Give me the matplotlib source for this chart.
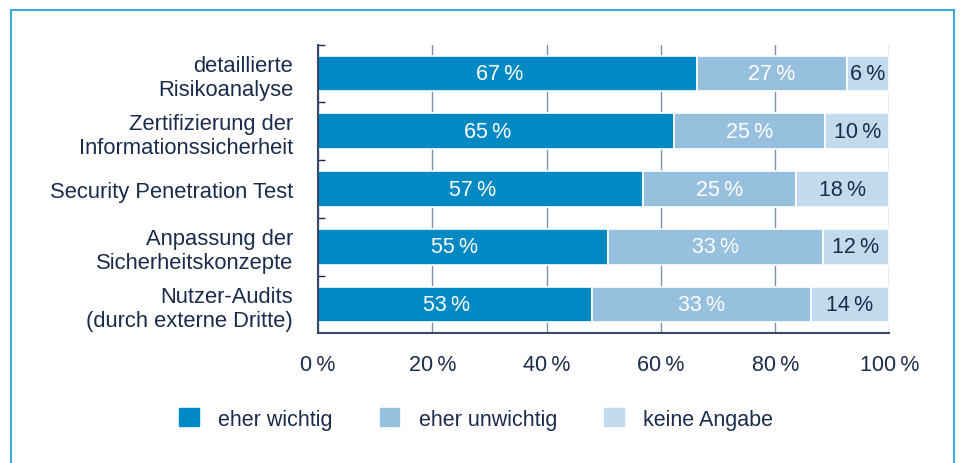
import matplotlib.pyplot as plt
import matplotlib.lines as mlines
import matplotlib.patches as mpatches
import numpy as np

plt.rcParams['font.family'] = ['Liberation Sans', 'DejaVu Sans']

categories = ["detaillierte\nRisikoanalyse",
              "Zertifizierung der\nInformationssicherheit",
              "Security Penetration Test",
              "Anpassung der\nSicherheitskonzepte",
              "Nutzer-Audits\n(durch externe Dritte)"]
series = ["eher wichtig", "eher unwichtig", "keine Angabe"]
# printed labels
wichtig_lbl = [67, 65, 57, 55, 53]
unwichtig_lbl = [27, 25, 25, 33, 33]
keine_lbl = [6, 10, 18, 12, 14]
# bar lengths as drawn in the original (they differ from the labels)
wichtig = [66.3, 62.3, 56.8, 50.7, 47.9]
unwichtig = [26.2, 26.5, 26.9, 37.6, 38.3]
keine = [7.5, 11.2, 16.3, 11.7, 13.8]
xticks = [0, 20, 40, 60, 80, 100]

navy = "#1b2b4b"
colors = ["#0189c3", "#97c0df", "#c3d9ec"]
txtcol = ["white", "white", navy]
lbl_shift = [-1.4, 0, 0]  # dark segment labels sit a bit left of centre
grid = "#8090a8"
frame = "#3aa8de"
fs = 15.5

fig = plt.figure(figsize=(9.6, 4.64), dpi=100)
ax = fig.add_axes([0.33125, 0.2793, 0.5953, 0.6224])

y = np.arange(len(categories))
left = np.zeros(len(categories))
for vals, lbls, c, tc, dx in zip([wichtig, unwichtig, keine],
                                 [wichtig_lbl, unwichtig_lbl, keine_lbl],
                                 colors, txtcol, lbl_shift):
    ax.barh(y, vals, left=left, height=0.62, color=c, edgecolor="white",
            linewidth=1.2, zorder=3)
    for yi, l, v, lb in zip(y, left, vals, lbls):
        ax.text(l + v / 2 + dx, yi, f"{lb}\u2009%", ha="center", va="center",
                color=tc, fontsize=fs, zorder=4)
    left = left + np.array(vals)

ax.set_xlim(0, 100)
ax.set_ylim(len(categories) - 0.5, -0.5)
ax.set_xticks(xticks)
ax.set_xticklabels([f"{t}\u2009%" for t in xticks])
ax.set_yticks(y)
ax.set_yticklabels(categories, linespacing=1.2)
ax.set_yticks(np.arange(-0.5, len(categories) - 0.5, 1), minor=True)

ax.tick_params(axis="y", which="major", length=0, pad=18, labelsize=15.8,
               labelcolor=navy)
ax.tick_params(axis="y", which="minor", direction="in", length=5,
               color=navy, width=1)
ax.tick_params(axis="x", length=0, pad=15, labelsize=fs, labelcolor=navy)

ax.grid(axis="x", color=grid, linewidth=1, zorder=0)
for s in ["top", "right"]:
    ax.spines[s].set_visible(False)
for s in ["left", "bottom"]:
    ax.spines[s].set_color("#3a4a66")
    ax.spines[s].set_linewidth(1.5)
    ax.spines[s].set_zorder(5)

handles = [mpatches.Patch(color=c, label=s) for c, s in zip(colors, series)]
leg = fig.legend(handles=handles, loc="center", bbox_to_anchor=(0.496, 0.095),
                 ncol=3, frameon=False, fontsize=fs, handlelength=0.9,
                 handleheight=0.9, handletextpad=0.9, columnspacing=2.2)
for t in leg.get_texts():
    t.set_color(navy)

# light blue frame
fx0, fx1, fy = 11 / 960, 953.5 / 960, 1 - 11 / 464
for xs, ys in [([fx0, fx0], [0, fy]), ([fx0, fx1], [fy, fy]), ([fx1, fx1], [fy, 0])]:
    fig.add_artist(mlines.Line2D(xs, ys, color=frame, linewidth=1.5,
                                 transform=fig.transFigure))

fig.savefig("out.png", dpi=100)
